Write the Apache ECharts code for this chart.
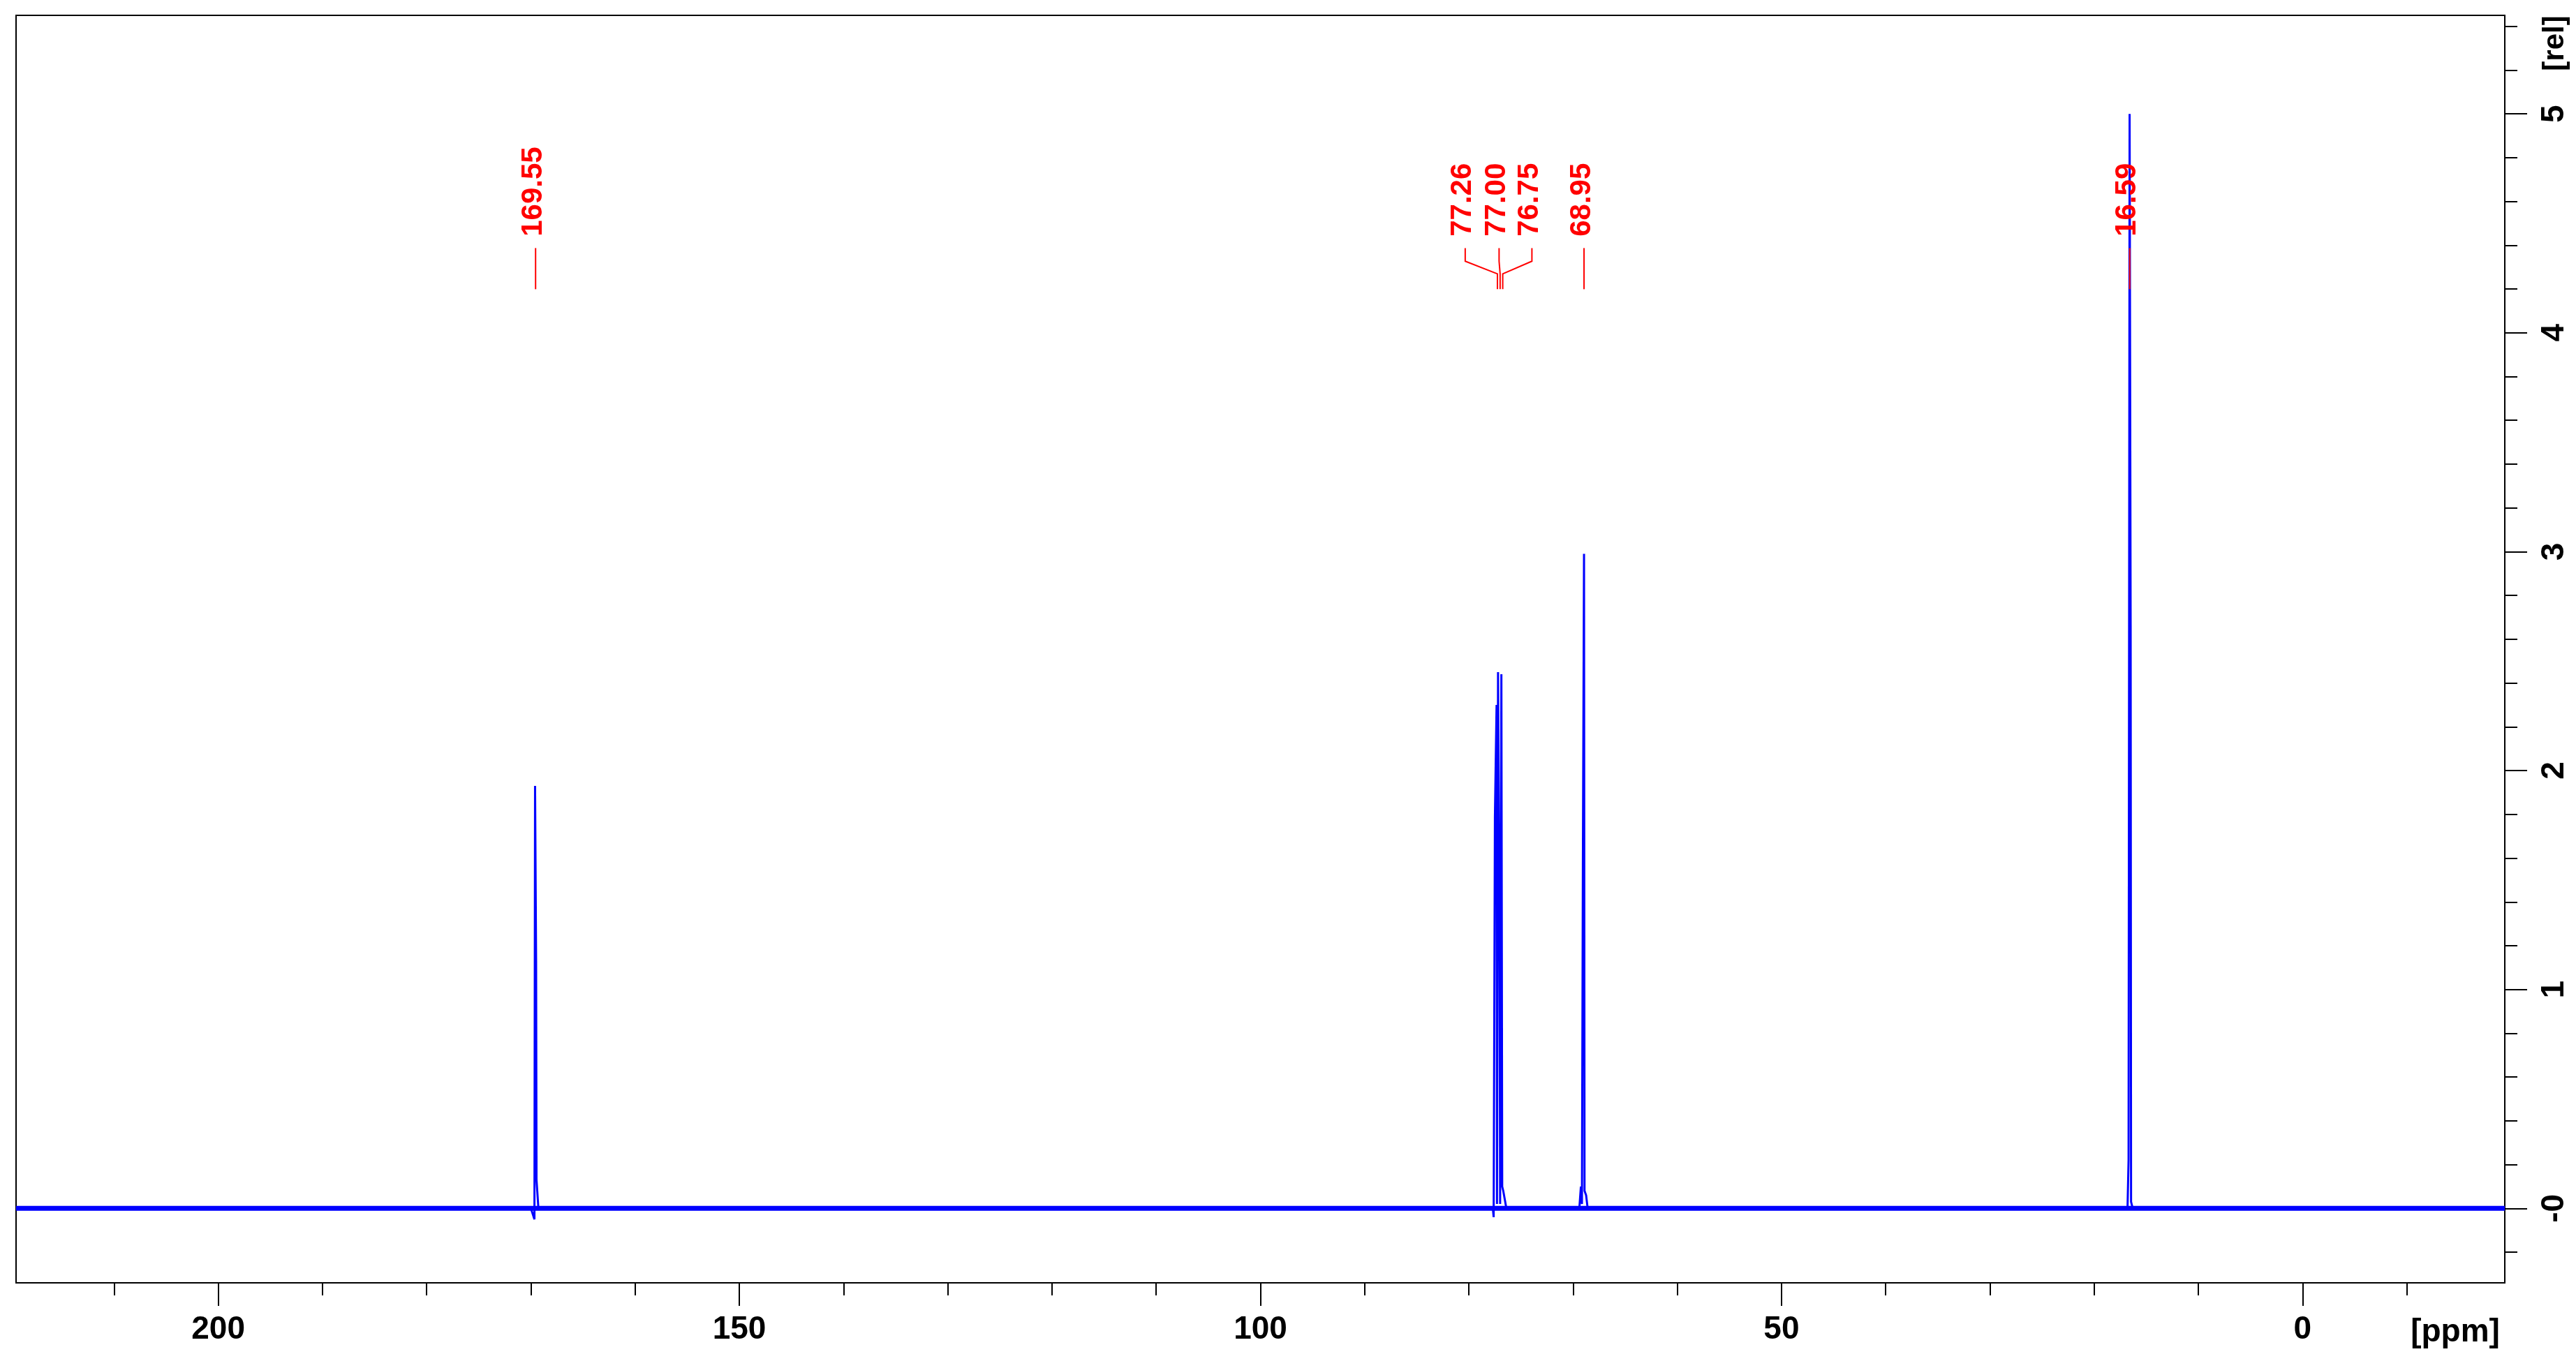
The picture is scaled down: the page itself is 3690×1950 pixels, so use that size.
<!DOCTYPE html>
<html>
<head>
<meta charset="utf-8">
<title>13C NMR</title>
<script src="https://cdn.jsdelivr.net/npm/echarts@6/dist/echarts.min.js"></script>
<style>
  html, body { margin: 0; padding: 0; background: #fff; }
  #main { width: 3690px; height: 1950px; }
</style>
</head>
<body>
<div id="main"></div>
<script>
// spectrum points (ppm, rel. intensity)
var specPpm = [219.4, 170.0, 169.66, 169.60, 169.50, 169.46, 169.36, 169.28,
    77.70, 77.62, 77.50, 77.34, 77.30, 77.20, 77.06, 77.00, 76.88, 76.80, 76.70, 76.55, 76.40,
    69.40, 69.25, 69.15, 69.06, 68.95, 68.90, 68.75, 68.60,
    16.80, 16.70, 16.65, 16.60, 16.50, 16.46, 16.30, -19.4];
var specIntensity = [0, 0, -0.05, 1.93, 1.13, 0.13, 0.13, 0,
    0, -0.04, 1.79, 2.30, 0.02, 2.45, 1.30, 0.02, 2.44, 0.10, 0.08, 0.04, 0,
    0, 0.10, 0.02, 1.57, 2.99, 0.08, 0.06, 0,
    0, 0.22, 0.22, 5.00, 2.66, 0.03, 0, 0];

// noisy baseline drawn as a band
var baselinePpm = [219.4, -19.4];
var baselineLevel = [0, 0];

// peak picking labels
var peakPpm = [169.55, 77.26, 77.00, 76.75, 68.95, 16.59];
var peakLabelPpm = [169.55, 80.35, 77.10, 73.95, 68.95, 16.59];
var peakLabels = ['169.55', '77.26', '77.00', '76.75', '68.95', '16.59'];

// axis ticks
var xMajorTicks = [0, 50, 100, 150, 200];
var xMinorTicks = [-10, 10, 20, 30, 40, 60, 70, 80, 90, 110, 120, 130, 140, 160, 170, 180, 190, 210];
var yMajorTicks = [0, 1, 2, 3, 4, 5];
var yTickLabels = ['-0', '1', '2', '3', '4', '5'];
var yMinorTicks = [-0.2, 0.2, 0.4, 0.6, 0.8, 1.2, 1.4, 1.6, 1.8, 2.2, 2.4, 2.6, 2.8,
    3.2, 3.4, 3.6, 3.8, 4.2, 4.4, 4.6, 4.8, 5.2, 5.4];

var X_MIN = -19.4, X_MAX = 219.4;
var Y_MIN = -0.34, Y_MAX = 5.45;
var FONT = 'Liberation Sans, Arial, sans-serif';

var spectrum = specPpm.map(function (p, i) { return [p, specIntensity[i]]; });
var baseline = baselinePpm.map(function (p, i) { return [p, baselineLevel[i]]; });
var peaks = peakPpm.map(function (p, i) { return [p, peakLabelPpm[i]]; });

var myChart = echarts.init(document.getElementById('main'));

function xAxisCfg(ticks, len, labels) {
    return {
        type: 'value', min: X_MIN, max: X_MAX, inverse: true, position: 'bottom',
        splitLine: { show: false },
        axisLine: { show: false, onZero: false },
        axisTick: { customValues: ticks, length: len, lineStyle: { color: '#000', width: 2 } },
        axisLabel: labels ? {
            customValues: ticks, margin: 44, color: '#000',
            fontFamily: FONT, fontWeight: 'bold', fontSize: 46
        } : { show: false }
    };
}

function yAxisCfg(ticks, len, labels) {
    return {
        type: 'value', min: Y_MIN, max: Y_MAX, position: 'right',
        splitLine: { show: false },
        axisLine: { show: false, onZero: false },
        axisTick: { customValues: ticks, length: len, lineStyle: { color: '#000', width: 2 } },
        axisLabel: labels ? {
            customValues: ticks, margin: 48, rotate: 90, color: '#000',
            fontFamily: FONT, fontWeight: 'bold', fontSize: 46,
            formatter: function (v) {
                var k = yMajorTicks.indexOf(Math.round(v));
                return k >= 0 ? yTickLabels[k] : '';
            }
        } : { show: false }
    };
}

var option = {
    backgroundColor: '#fff',
    animation: false,
    grid: {
        left: 23, right: 102, top: 22, bottom: 112,
        show: true, borderColor: '#000', borderWidth: 2, backgroundColor: 'transparent'
    },
    xAxis: [xAxisCfg(xMajorTicks, 33, true), xAxisCfg(xMinorTicks, 18, false)],
    yAxis: [yAxisCfg(yMajorTicks, 32, true), yAxisCfg(yMinorTicks, 18, false)],
    graphic: [
        {
            type: 'text', x: 3517, y: 1909,
            style: { text: '[ppm]', fill: '#000', font: 'bold 46px ' + FONT, align: 'center', verticalAlign: 'middle' }
        },
        {
            type: 'text', x: 3660, y: 62, rotation: Math.PI / 2,
            style: { text: '[rel]', fill: '#000', font: 'bold 42px ' + FONT, align: 'center', verticalAlign: 'middle' }
        }
    ],
    series: [
        {
            // baseline noise band
            type: 'line', data: baseline, showSymbol: false, silent: true,
            lineStyle: { color: '#0000ff', width: 7 }
        },
        {
            type: 'line', data: spectrum, showSymbol: false,
            lineStyle: { color: '#0000ff', width: 3 }
        },
        {
            // peak labels with their leader lines
            type: 'custom',
            data: peaks,
            encode: { x: [0, 1] },
            z: 5,
            renderItem: function (params, api) {
                var pk = api.value(0), lab = api.value(1);
                var pTop = api.coord([lab, 4.387]);
                var pBend1 = api.coord([lab, 4.327]);
                var pBend2 = api.coord([pk, 4.269]);
                var pBot = api.coord([pk, 4.199]);
                var pText = api.coord([lab, 4.44]);
                return {
                    type: 'group',
                    children: [
                        {
                            type: 'polyline',
                            shape: { points: [pTop, pBend1, pBend2, pBot] },
                            style: { stroke: '#ff0000', lineWidth: 2, fill: null }
                        },
                        {
                            type: 'text', x: pText[0] - 3, y: pText[1], rotation: Math.PI / 2,
                            style: {
                                text: peakLabels[params.dataIndex], fill: '#ff0000',
                                font: 'bold 42px ' + FONT, align: 'left', verticalAlign: 'middle'
                            }
                        }
                    ]
                };
            }
        }
    ]
};

myChart.setOption(option);
</script>
</body>
</html>
